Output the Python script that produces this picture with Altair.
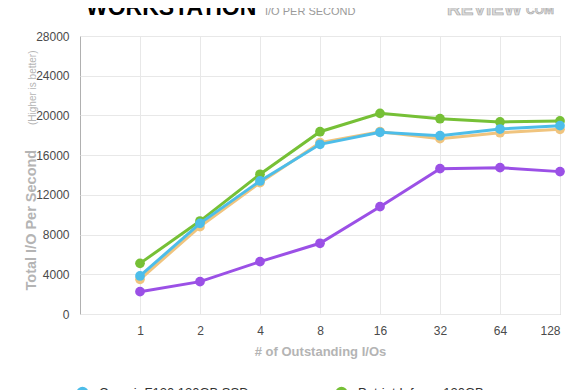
import altair as alt
import pandas as pd

# ---- data -------------------------------------------------------------
outstanding = ["1", "2", "4", "8", "16", "32", "64", "128"]
series_names = ["Corsair F120 120GB SSD", "Patriot Inferno 120GB",
                "OCZ Vertex 2 120GB", "Kingston SSDNow V+100 128GB"]
corsair = [3830, 9130, 13400, 17090, 18300, 17960, 18630, 18970]
patriot = [5100, 9360, 14070, 18360, 20210, 19670, 19340, 19440]
vertex = [3490, 8800, 13230, 17250, 18360, 17660, 18260, 18600]
kingston = [2250, 3260, 5270, 7120, 10810, 14640, 14740, 14340]
series_colors = ["#4dbde9", "#76c036", "#f0c47e", "#9b50e6"]
y_ticks = [0, 4000, 8000, 12000, 16000, 20000, 24000, 28000]

values = {series_names[0]: corsair, series_names[1]: patriot,
          series_names[2]: vertex, series_names[3]: kingston}
draw_order = [series_names[2], series_names[1], series_names[3], series_names[0]]

FONT = "Liberation Sans"

color_scale = alt.Scale(domain=series_names, range=series_colors)
label_expr = "[" + ",".join("'%s'" % o for o in outstanding) + "][datum.value - 1]"

x_enc = alt.X("idx:Q",
              scale=alt.Scale(domain=[0, len(outstanding)], nice=False, zero=False),
              axis=alt.Axis(values=list(range(1, len(outstanding) + 1)),
                            labelExpr=label_expr,
                            title="# of Outstanding I/Os",
                            titleX=240, titleY=41, titleBaseline="alphabetic",
                            titleAlign="center"))
y_enc = alt.Y("v:Q",
              scale=alt.Scale(domain=[0, 28000], nice=False),
              axis=alt.Axis(values=y_ticks, format="d",
                            title="Total I/O Per Second",
                            titleAngle=270, titleAlign="left",
                            titleBaseline="alphabetic",
                            titleX=-45, titleY=254))

layers = []
for name in draw_order:
    df = pd.DataFrame({"idx": list(range(1, len(outstanding) + 1)),
                       "v": values[name], "series": name})
    base = alt.Chart(df).encode(
        x=x_enc, y=y_enc,
        color=alt.Color("series:N", scale=color_scale,
                        legend=alt.Legend(title=None, orient="none",
                                          direction="horizontal",
                                          legendX=-4, legendY=350,
                                          columns=2, columnPadding=84,
                                          symbolType="circle", symbolSize=110,
                                          labelFontSize=13, labelColor="#333",
                                          labelFont=FONT, labelOffset=10,
                                          rowPadding=8)))
    layers.append(base.mark_line(strokeWidth=3))
    layers.append(base.mark_point(filled=True, size=95, opacity=1))

# headings
title = alt.Chart(pd.DataFrame({"t": ["WORKSTATION"]})).mark_text(
    font=FONT, fontSize=23, fontWeight="bold", color="#000",
    align="left", baseline="alphabetic").encode(
    x=alt.value(6), y=alt.value(-21), text="t:N")
sub = alt.Chart(pd.DataFrame({"t": ["I/O PER SECOND"]})).mark_text(
    font=FONT, fontSize=11, color="#9a9a9a",
    align="left", baseline="alphabetic").encode(
    x=alt.value(185), y=alt.value(-21), text="t:N")
logo1 = alt.Chart(pd.DataFrame({"t": ["REVIEW"]})).mark_text(
    font=FONT, fontSize=19, fontWeight="bold", color="#dedede",
    stroke="#a8a8a8", strokeWidth=0.7,
    align="left", baseline="alphabetic").encode(
    x=alt.value(367), y=alt.value(-21), text="t:N")
logo2 = alt.Chart(pd.DataFrame({"t": ["COM"]})).mark_text(
    font=FONT, fontSize=12, fontWeight="bold", color="#dedede",
    stroke="#a8a8a8", strokeWidth=0.6,
    align="left", baseline="alphabetic").encode(
    x=alt.value(446), y=alt.value(-22), text="t:N")
higher = alt.Chart(pd.DataFrame({"t": ["(Higher is better)"]})).mark_text(
    font=FONT, fontSize=10, color="#b5b5b5", angle=270,
    align="left", baseline="alphabetic").encode(
    x=alt.value(-44), y=alt.value(89), text="t:N")

chart = alt.layer(*layers, title, sub, logo1, logo2, higher).properties(
    width=480, height=278,
    autosize=alt.AutoSizeParams(type="none"),
    padding={"left": 72, "top": 28, "right": 10, "bottom": 76},
).configure_view(
    stroke="#b0b0b0", strokeWidth=1
).configure_axis(
    grid=True, gridColor="#e8e8e8", gridWidth=1,
    domain=False, ticks=False,
    labelFont=FONT, labelFontSize=12, labelColor="#4a4a4a",
    labelPadding=11,
    titleFont=FONT, titleFontWeight="bold", titleColor="#b4b4b4",
).configure_axisX(titleFontSize=13).configure_axisY(titleFontSize=14.5)

chart.save("out.html", embed_options={"renderer": "svg", "actions": False})
